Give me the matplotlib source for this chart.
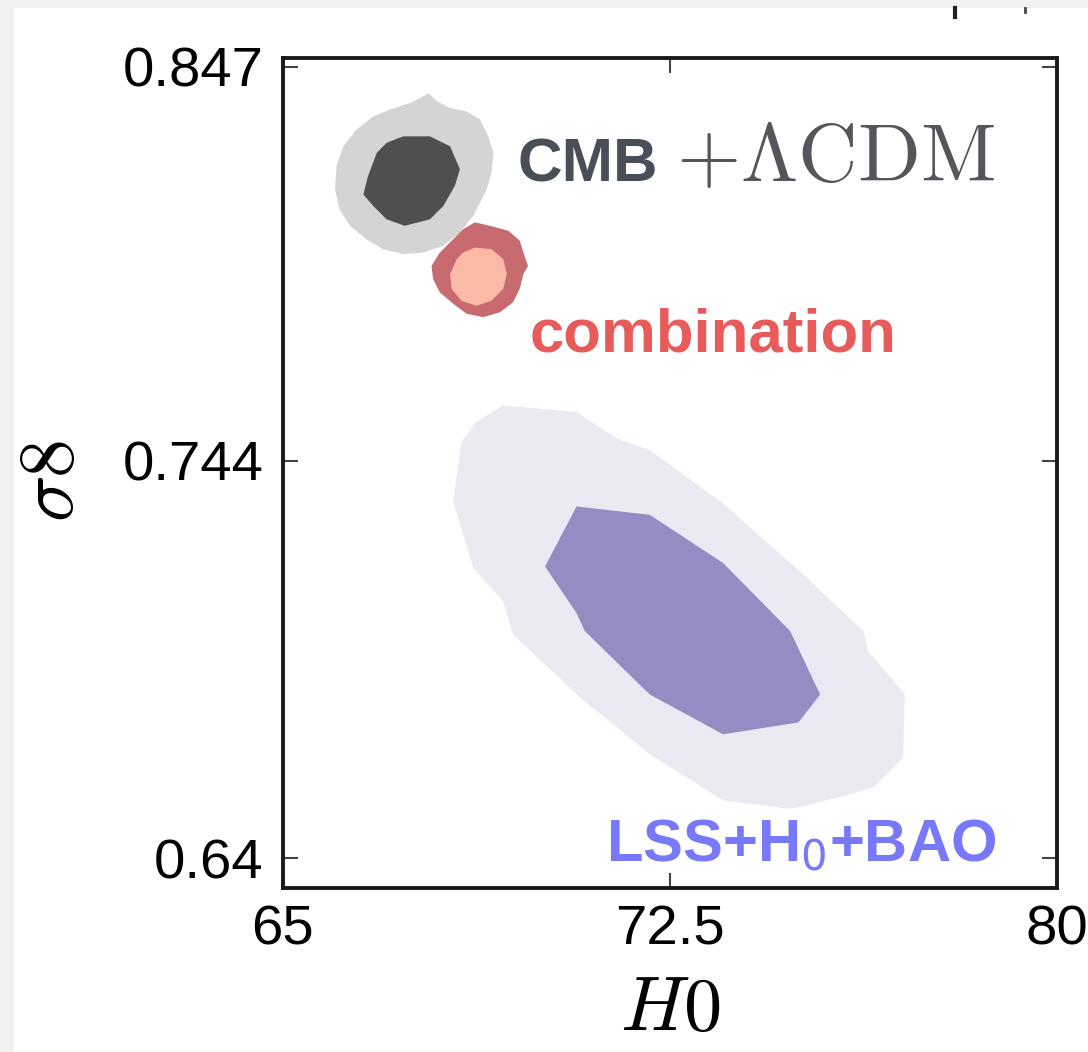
import matplotlib.pyplot as plt
from matplotlib.patches import Rectangle
from matplotlib.lines import Line2D

plt.rcParams["font.family"] = ["Liberation Sans", "DejaVu Sans"]
plt.rcParams["mathtext.fontset"] = "cm"

# 68% / 95% regions in the (H0, sigma8) plane, as outline vertices
lss_outer_h0 = [69.27, 70.69, 71.47, 72.11, 73.53, 75.02, 76.25, 76.34, 77.05, 77.02, 76.44,
                75.66, 74.83, 73.53, 72.11, 70.76, 69.46, 69.27, 68.69, 68.30, 68.46, 68.75]
lss_outer_s8 = [0.7584, 0.7567, 0.7498, 0.7467, 0.7328, 0.7150, 0.6994, 0.6942, 0.6828, 0.6663, 0.6585,
                0.6555, 0.6529, 0.6551, 0.6672, 0.6820, 0.6985, 0.7072, 0.7159, 0.7333, 0.7489, 0.7541]
lss_inner_h0 = [70.69, 72.11, 73.53, 74.83, 75.41, 74.99, 73.53, 72.11, 70.85, 70.69, 70.08]
lss_inner_s8 = [0.7320, 0.7298, 0.7172, 0.6994, 0.6828, 0.6755, 0.6724, 0.6828, 0.6994, 0.7041, 0.7163]

cmb_outer_h0 = [67.82, 67.98, 68.24, 68.56, 68.82, 68.98, 69.08, 69.04, 68.95, 68.82, 68.69, 68.43,
                68.11, 67.72, 67.33, 66.94, 66.62, 66.30, 66.10, 66.01, 66.04, 66.17, 66.43, 66.75,
                67.07, 67.46, 67.66]
cmb_outer_s8 = [0.8401, 0.8380, 0.8362, 0.8353, 0.8332, 0.8288, 0.8245, 0.8193, 0.8149, 0.8115, 0.8080, 0.8037,
                0.8002, 0.7984, 0.7980, 0.7993, 0.8019, 0.8054, 0.8097, 0.8149, 0.8210, 0.8262, 0.8306, 0.8340,
                0.8358, 0.8375, 0.8388]
cmb_inner_h0 = [67.33, 67.85, 68.24, 68.43, 68.33, 68.11, 67.85, 67.36, 67.01, 66.75, 66.56, 66.65, 66.82, 67.01]
cmb_inner_s8 = [0.8288, 0.8288, 0.8262, 0.8202, 0.8158, 0.8106, 0.8071, 0.8054, 0.8071, 0.8106, 0.8136,
                0.8184, 0.8245, 0.8271]

comb_outer_h0 = [68.72, 69.01, 69.37, 69.59, 69.66, 69.75, 69.66, 69.59, 69.46, 69.21, 68.88, 68.56,
                 68.30, 68.04, 67.91, 67.88, 68.04, 68.30, 68.49]
comb_outer_s8 = [0.8063, 0.8054, 0.8041, 0.8015, 0.7984, 0.7949, 0.7928, 0.7889, 0.7854, 0.7828, 0.7815, 0.7824,
                 0.7850, 0.7880, 0.7915, 0.7949, 0.7984, 0.8019, 0.8045]
comb_inner_h0 = [68.72, 69.04, 69.27, 69.34, 69.27, 69.04, 68.75, 68.46, 68.27, 68.24, 68.37, 68.49]
comb_inner_s8 = [0.7997, 0.7993, 0.7967, 0.7928, 0.7889, 0.7858, 0.7845, 0.7858, 0.7889, 0.7928, 0.7967, 0.7984]

x_ticks = [65, 72.5, 80]
x_ticklabels = ["65", "72.5", "80"]
y_ticks = [0.64, 0.744, 0.847]
y_ticklabels = ["0.64", "0.744", "0.847"]

fig = plt.figure(figsize=(10.88, 10.52), dpi=100, facecolor="#f2f2f2")
fig.add_artist(Rectangle((0.0129, 0.0), 1.0, 0.9924, transform=fig.transFigure,
                         facecolor="white", edgecolor="none", zorder=-10))
# cut-off marks from the line above
fig.add_artist(Line2D([0.878, 0.878], [0.984, 0.992], transform=fig.transFigure,
                      color="#222", lw=3))
fig.add_artist(Line2D([0.942, 0.942], [0.989, 0.992], transform=fig.transFigure,
                      color="#444", lw=2))

ax = fig.add_axes([0.260, 0.1559, 0.7115, 0.789])

ax.fill(lss_outer_h0, lss_outer_s8, color="#ebeaf3", lw=0)
ax.fill(lss_inner_h0, lss_inner_s8, color="#958cc3", lw=0)
ax.fill(cmb_outer_h0, cmb_outer_s8, color="#d4d4d4", lw=0)
ax.fill(cmb_inner_h0, cmb_inner_s8, color="#4f4f4f", lw=0)
ax.fill(comb_outer_h0, comb_outer_s8, color="#c86b71", lw=0)
ax.fill(comb_inner_h0, comb_inner_s8, color="#fabaa6", lw=0)

ax.text(69.55, 0.8170, "CMB", fontsize=44.5, fontweight="bold", color="#4a4e57", va="baseline")
ax.text(72.62, 0.8170, r"$+\Lambda\mathrm{CDM}$", fontsize=59.5, color="#55565b", va="baseline")
ax.text(69.79, 0.7724, "combination", fontsize=44.5, fontweight="bold", color="#e85b5b", va="baseline")
ax.text(71.26, 0.6390, r"LSS+H$_0$+BAO", fontsize=43, fontweight="bold", color="#7878fa",
        va="baseline", math_fontfamily="dejavusans")

ax.set_xlim(65, 80)
ax.set_ylim(0.6322, 0.8493)
ax.set_xticks(x_ticks)
ax.set_xticklabels(x_ticklabels)
ax.set_yticks(y_ticks)
ax.set_yticklabels(y_ticklabels)
ax.tick_params(direction="in", length=11, width=1.5, color="#444", top=True, right=True,
               labelsize=40.5)
ax.tick_params(axis="x", pad=12)
ax.tick_params(axis="y", pad=14)
for sp in ax.spines.values():
    sp.set_linewidth(2.8)
    sp.set_color("#1a1a1a")

ax.set_xlabel(r"$H0$", fontsize=55)
ax.xaxis.set_label_coords(0.5, -0.105)
ax.set_ylabel(r"$\sigma8$", fontsize=56)
ax.yaxis.set_label_coords(-0.25, 0.49)

fig.savefig("out.png", dpi=100, facecolor=fig.get_facecolor())
